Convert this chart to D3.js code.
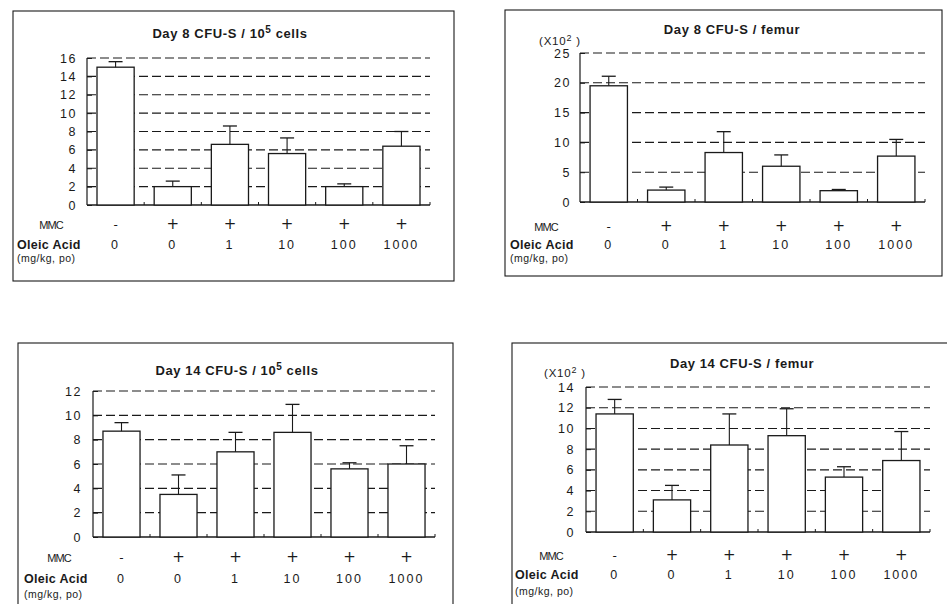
<!DOCTYPE html>
<html>
<head>
<meta charset="utf-8">
<script src="https://cdn.jsdelivr.net/npm/d3@7"></script>
<style>
  body { margin: 0; background: #fff; }
  svg { display: block; font-family: "Liberation Sans", Arial, sans-serif; }
</style>
</head>
<body>
<div id="chart"></div>
<script>
// groups along the x axis
const mmcLabels = ["-", "+", "+", "+", "+", "+"];
const oleicLabels = ["0", "0", "1", "10", "100", "1000"];

// Day 8 CFU-S / 10^5 cells
const day8Cells = [15.0, 2.0, 6.6, 5.6, 2.0, 6.4];
const day8CellsErr = [15.6, 2.6, 8.6, 7.3, 2.3, 8.0];
const day8CellsTicks = [0, 2, 4, 6, 8, 10, 12, 14, 16];

// Day 8 CFU-S / femur (x10^2)
const day8Femur = [19.5, 2.0, 8.3, 6.0, 1.9, 7.7];
const day8FemurErr = [21.1, 2.5, 11.8, 7.9, 2.1, 10.5];
const day8FemurTicks = [0, 5, 10, 15, 20, 25];

// Day 14 CFU-S / 10^5 cells
const day14Cells = [8.7, 3.5, 7.0, 8.6, 5.6, 6.0];
const day14CellsErr = [9.4, 5.1, 8.6, 10.9, 6.1, 7.5];
const day14CellsTicks = [0, 2, 4, 6, 8, 10, 12];

// Day 14 CFU-S / femur (x10^2)
const day14Femur = [11.4, 3.1, 8.4, 9.3, 5.3, 6.9];
const day14FemurErr = [12.8, 4.5, 11.4, 11.9, 6.3, 9.7];
const day14FemurTicks = [0, 2, 4, 6, 8, 10, 12, 14];

const W = 947, H = 604;
const ink = "#1a1a1a";

const svg = d3.select("#chart").append("svg")
    .attr("width", W)
    .attr("height", H);

function drawPanel(cfg) {
    const g = svg.append("g");

    // outer frame
    g.append("rect")
        .attr("x", cfg.box[0]).attr("y", cfg.box[1])
        .attr("width", cfg.box[2] - cfg.box[0])
        .attr("height", cfg.box[3] - cfg.box[1])
        .attr("fill", "none").attr("stroke", ink).attr("stroke-width", 1.1);

    const x = d3.scaleBand()
        .domain(d3.range(oleicLabels.length))
        .range([cfg.x0, cfg.x1])
        .paddingInner(0.35)
        .paddingOuter(0.175);

    const yMax = cfg.ticks[cfg.ticks.length - 1];
    const y = d3.scaleLinear().domain([0, yMax]).range([cfg.yBot, cfg.yTop]);

    // title
    const t = g.append("text")
        .attr("x", cfg.titleX).attr("y", cfg.titleY)
        .attr("text-anchor", "middle")
        .attr("font-size", 13).attr("font-weight", "bold")
        .attr("letter-spacing", 0.6)
        .attr("fill", ink);
    t.append("tspan").text(cfg.title);
    if (cfg.sup) {
        t.append("tspan").attr("dy", -5).attr("font-size", 10).text(cfg.sup);
        t.append("tspan").attr("dy", 5).text(cfg.titleTail);
    }

    if (cfg.scaleNote) {
        const s = g.append("text")
            .attr("x", cfg.scaleX).attr("y", cfg.scaleY)
            .attr("font-size", 11.5).attr("letter-spacing", 0.8).attr("fill", ink);
        s.append("tspan").text("(X10");
        s.append("tspan").attr("dy", -4).attr("font-size", 9).text("2");
        s.append("tspan").attr("dy", 4).text(" )");
    }

    // dashed gridlines
    g.append("g").selectAll("line")
        .data(cfg.ticks.filter(d => d > 0))
        .join("line")
        .attr("x1", cfg.x0).attr("x2", cfg.x1)
        .attr("y1", d => y(d)).attr("y2", d => y(d))
        .attr("stroke", ink).attr("stroke-width", 1.1)
        .attr("stroke-dasharray", "9,4");

    // y axis with inward ticks
    const yAxis = g.append("g")
        .attr("transform", `translate(${cfg.x0},0)`)
        .call(d3.axisRight(y).tickValues(cfg.ticks).tickSize(5).tickFormat(""));
    yAxis.select(".domain").attr("stroke", ink).attr("stroke-width", 1.2)
        .attr("d", `M0,${cfg.yTop}V${cfg.yBot}`);
    yAxis.selectAll(".tick line").attr("stroke", ink);

    g.append("g").selectAll("text")
        .data(cfg.ticks)
        .join("text")
        .attr("x", cfg.labelX)
        .attr("y", d => y(d) + 4.5)
        .attr("text-anchor", "end")
        .attr("font-size", 12.5).attr("letter-spacing", 1.6)
        .attr("fill", ink)
        .text(d => d);

    // bottom axis with small ticks between groups
    const step = x.step();
    const bounds = d3.range(1, oleicLabels.length).map(i => x(i) - step * 0.175);
    bounds.push(cfg.x1);
    g.append("line")
        .attr("x1", cfg.x0).attr("x2", cfg.x1)
        .attr("y1", cfg.yBot).attr("y2", cfg.yBot)
        .attr("stroke", ink).attr("stroke-width", 1.3);
    g.append("g").selectAll("line")
        .data(bounds)
        .join("line")
        .attr("x1", d => d).attr("x2", d => d)
        .attr("y1", cfg.yBot).attr("y2", cfg.yBot - 3)
        .attr("stroke", ink);

    // bars
    g.append("g").selectAll("rect")
        .data(cfg.values)
        .join("rect")
        .attr("x", (d, i) => x(i))
        .attr("y", d => y(d))
        .attr("width", x.bandwidth())
        .attr("height", d => cfg.yBot - y(d))
        .attr("fill", "#fff").attr("stroke", ink).attr("stroke-width", 1.3);

    // error bars (upper only)
    const eb = g.append("g").selectAll("g")
        .data(cfg.values.map((v, i) => ({ i, v, e: cfg.errs[i] })))
        .join("g");
    eb.append("line")
        .attr("x1", d => x(d.i) + x.bandwidth() / 2)
        .attr("x2", d => x(d.i) + x.bandwidth() / 2)
        .attr("y1", d => y(d.v)).attr("y2", d => y(d.e))
        .attr("stroke", ink).attr("stroke-width", 1.1);
    eb.append("line")
        .attr("x1", d => x(d.i) + x.bandwidth() / 2 - 7)
        .attr("x2", d => x(d.i) + x.bandwidth() / 2 + 7)
        .attr("y1", d => y(d.e)).attr("y2", d => y(d.e))
        .attr("stroke", ink).attr("stroke-width", 1.3);

    // row labels under the axis
    g.append("text")
        .attr("x", cfg.mmcX).attr("y", cfg.rowY[0])
        .attr("text-anchor", "end")
        .attr("font-size", 11).attr("letter-spacing", -0.8)
        .attr("fill", ink).text("MMC");
    g.append("text")
        .attr("x", cfg.oleicX).attr("y", cfg.rowY[1])
        .attr("font-size", 12.5).attr("font-weight", "bold")
        .attr("letter-spacing", 0.3)
        .attr("fill", ink).text("Oleic Acid");
    g.append("text")
        .attr("x", cfg.oleicX).attr("y", cfg.rowY[2])
        .attr("font-size", 10.5).attr("letter-spacing", 0.5)
        .attr("fill", ink).text("(mg/kg,  po)");

    g.append("g").selectAll("text")
        .data(mmcLabels)
        .join("text")
        .attr("x", (d, i) => x(i) + x.bandwidth() / 2)
        .attr("y", cfg.rowY[0])
        .attr("text-anchor", "middle")
        .attr("font-family", "'DejaVu Sans', sans-serif")
        .attr("font-size", d => d === "+" ? 15 : 12)
        .attr("fill", ink)
        .text(d => d);

    g.append("g").selectAll("text")
        .data(oleicLabels)
        .join("text")
        .attr("x", (d, i) => x(i) + x.bandwidth() / 2)
        .attr("y", cfg.rowY[1])
        .attr("text-anchor", "middle")
        .attr("font-size", 12.5).attr("letter-spacing", 2)
        .attr("fill", ink)
        .text(d => d);
}

drawPanel({
    box: [13, 11, 454, 281],
    x0: 87, x1: 430, yTop: 58, yBot: 205,
    ticks: day8CellsTicks, values: day8Cells, errs: day8CellsErr,
    title: "Day 8  CFU-S  /  10", sup: "5", titleTail: " cells",
    titleX: 230, titleY: 38, labelX: 77,
    mmcX: 63, oleicX: 17, rowY: [229, 249, 262]
});

drawPanel({
    box: [505, 10, 942, 276],
    x0: 580, x1: 925, yTop: 53, yBot: 202,
    ticks: day8FemurTicks, values: day8Femur, errs: day8FemurErr,
    title: "Day 8  CFU-S  /  femur",
    titleX: 732, titleY: 34, labelX: 571,
    scaleNote: true, scaleX: 539, scaleY: 45,
    mmcX: 558, oleicX: 510, rowY: [231, 249, 262]
});

drawPanel({
    box: [18, 343, 453, 640],
    x0: 93, x1: 435, yTop: 391, yBot: 537,
    ticks: day14CellsTicks, values: day14Cells, errs: day14CellsErr,
    title: "Day 14  CFU-S  /  10", sup: "5", titleTail: " cells",
    titleX: 237, titleY: 375, labelX: 82,
    mmcX: 71, oleicX: 24, rowY: [562, 583, 598]
});

drawPanel({
    box: [512, 343, 960, 640],
    x0: 586, x1: 930, yTop: 387, yBot: 532,
    ticks: day14FemurTicks, values: day14Femur, errs: day14FemurErr,
    title: "Day 14  CFU-S  /  femur",
    titleX: 742, titleY: 368, labelX: 575,
    scaleNote: true, scaleX: 544, scaleY: 377,
    mmcX: 563, oleicX: 515, rowY: [560, 579, 595]
});
</script>
</body>
</html>
